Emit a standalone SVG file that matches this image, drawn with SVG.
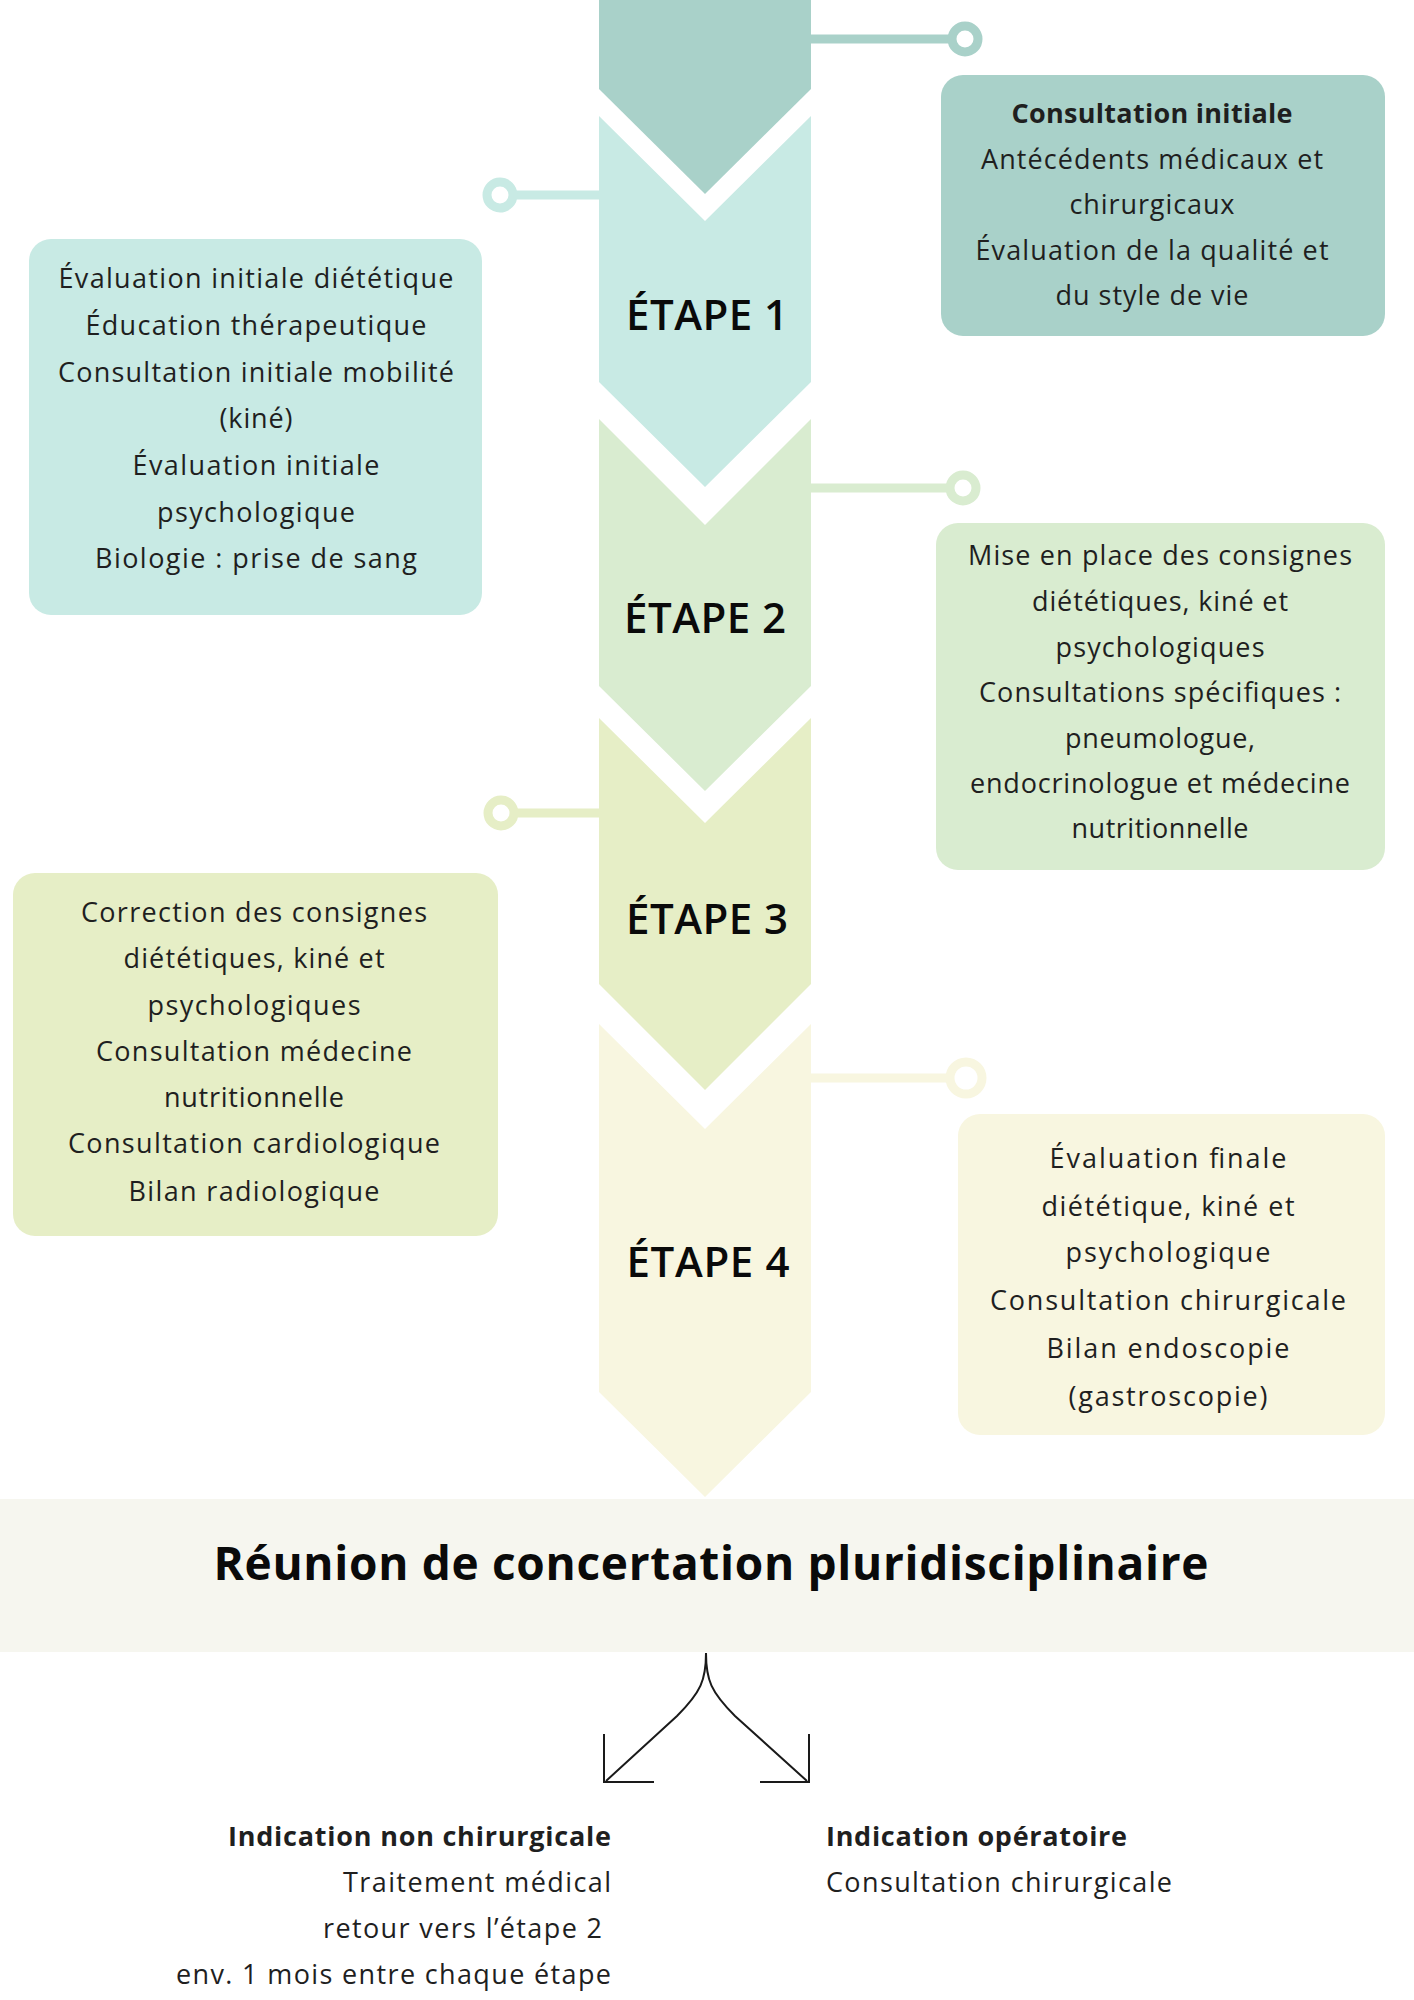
<svg xmlns="http://www.w3.org/2000/svg" width="1414" height="2000" viewBox="0 0 1414 2000">
<style>
.t{font-family:"Open Sans","Liberation Sans",sans-serif;font-size:27px;fill:#1f1f1f;text-anchor:middle}
.b{font-weight:700}
.step{font-family:"Open Sans","Liberation Sans",sans-serif;font-size:42px;font-weight:600;fill:#0a0a0a;text-anchor:middle}
.title{font-family:"Open Sans","Liberation Sans",sans-serif;font-size:46px;font-weight:700;fill:#0a0a0a;text-anchor:middle}
.l{text-anchor:start}
.r{text-anchor:end}
.ln{stroke-width:9;fill:none}
.ring{stroke-width:9;fill:#ffffff}
.arrow{stroke:#1a1a1a;stroke-width:2;fill:none}
</style>
<rect width="1414" height="2000" fill="#ffffff"/>

<g id="chevron-top">
<polygon points="599,0 811,0 811,89 705,194 599,89" fill="#A9D1C9"/>
</g>
<g id="etape1">
<polygon points="599,116 705,221 811,116 811,382 705,487 599,382" fill="#C8EAE4"/>
<text class="step" x="707" y="330" textLength="162">ÉTAPE 1</text>
</g>
<g id="etape2">
<polygon points="599,419 705,525 811,419 811,686 705,791 599,686" fill="#D9ECD0"/>
<text class="step" x="705" y="633" textLength="162">ÉTAPE 2</text>
</g>
<g id="etape3">
<polygon points="599,718 705,823 811,718 811,984 705,1090 599,984" fill="#E6EEC6"/>
<text class="step" x="707" y="934" textLength="162">ÉTAPE 3</text>
</g>
<g id="etape4">
<polygon points="599,1024 705,1129 811,1024 811,1392 705,1497 599,1392" fill="#F8F6E0"/>
<text class="step" x="708" y="1277" textLength="163">ÉTAPE 4</text>
</g>

<g id="connectors">
<line class="ln" x1="811" y1="39" x2="952" y2="39" stroke="#A9D1C9"/>
<circle class="ring" cx="965" cy="39" r="13" stroke="#A9D1C9"/>
<line class="ln" x1="599" y1="195" x2="513" y2="195" stroke="#C8EAE4"/>
<circle class="ring" cx="500" cy="195" r="13" stroke="#C8EAE4"/>
<line class="ln" x1="811" y1="488" x2="950" y2="488" stroke="#D9ECD0"/>
<circle class="ring" cx="963" cy="488" r="13" stroke="#D9ECD0"/>
<line class="ln" x1="599" y1="813" x2="514" y2="813" stroke="#E6EEC6"/>
<circle class="ring" cx="501" cy="813" r="13" stroke="#E6EEC6"/>
<line class="ln" x1="811" y1="1078" x2="950" y2="1078" stroke="#F8F6E0"/>
<circle class="ring" cx="966" cy="1078" r="16" stroke="#F8F6E0" stroke-width="10"/>
<path class="arrow" d="M706 1653 C706 1680 701 1692 677 1716 L606 1781"/>
<path class="arrow" d="M604 1734 L604 1782 L654 1782"/>
<path class="arrow" d="M706 1653 C706 1680 711 1692 735 1716 L807 1781"/>
<path class="arrow" d="M809 1734 L809 1782 L760 1782"/>
</g>

<g id="box-consultation-initiale">
<rect x="941" y="75" width="444" height="261" rx="22" fill="#A9D1C9"/>
<text class="t b" x="1152" y="123" textLength="281">Consultation initiale</text>
<text class="t" x="1152" y="169" textLength="342">Antécédents médicaux et</text>
<text class="t" x="1152" y="214" textLength="165">chirurgicaux</text>
<text class="t" x="1152" y="260" textLength="353">Évaluation de la qualité et</text>
<text class="t" x="1152" y="305" textLength="193">du style de vie</text>
</g>

<g id="box-etape1">
<rect x="29" y="239" width="453" height="376" rx="22" fill="#C8EAE4"/>
<text class="t" x="256" y="288" textLength="395">Évaluation initiale diététique</text>
<text class="t" x="256" y="335" textLength="341">Éducation thérapeutique</text>
<text class="t" x="256" y="382" textLength="396">Consultation initiale mobilité</text>
<text class="t" x="256" y="428" textLength="73">(kiné)</text>
<text class="t" x="256" y="475" textLength="247">Évaluation initiale</text>
<text class="t" x="256" y="522" textLength="198">psychologique</text>
<text class="t" x="256" y="568" textLength="322">Biologie : prise de sang</text>
</g>

<g id="box-etape2">
<rect x="936" y="523" width="449" height="347" rx="22" fill="#D9ECD0"/>
<text class="t" x="1160" y="565" textLength="384">Mise en place des consignes</text>
<text class="t" x="1160" y="611" textLength="256">diététiques, kiné et</text>
<text class="t" x="1160" y="657" textLength="209">psychologiques</text>
<text class="t" x="1160" y="702" textLength="362">Consultations spécifiques :</text>
<text class="t" x="1160" y="748" textLength="190">pneumologue,</text>
<text class="t" x="1160" y="793" textLength="380">endocrinologue et médecine</text>
<text class="t" x="1160" y="838" textLength="177">nutritionnelle</text>
</g>

<g id="box-etape3">
<rect x="13" y="873" width="485" height="363" rx="22" fill="#E6EEC6"/>
<text class="t" x="254" y="922" textLength="346">Correction des consignes</text>
<text class="t" x="254" y="968" textLength="261">diététiques, kiné et</text>
<text class="t" x="254" y="1015" textLength="213">psychologiques</text>
<text class="t" x="254" y="1061" textLength="316">Consultation médecine</text>
<text class="t" x="254" y="1107" textLength="180">nutritionnelle</text>
<text class="t" x="254" y="1153" textLength="372">Consultation cardiologique</text>
<text class="t" x="254" y="1201" textLength="251">Bilan radiologique</text>
</g>

<g id="box-etape4">
<rect x="958" y="1114" width="427" height="321" rx="22" fill="#F8F6E0"/>
<text class="t" x="1168" y="1168" textLength="237">Évaluation finale</text>
<text class="t" x="1168" y="1216" textLength="253">diététique, kiné et</text>
<text class="t" x="1168" y="1262" textLength="205">psychologique</text>
<text class="t" x="1168" y="1310" textLength="356">Consultation chirurgicale</text>
<text class="t" x="1168" y="1358" textLength="243">Bilan endoscopie</text>
<text class="t" x="1168" y="1406" textLength="199">(gastroscopie)</text>
</g>

<g id="reunion">
<rect x="0" y="1499" width="1414" height="153" fill="#F6F6EF"/>
<text class="title" x="711" y="1580" textLength="995">Réunion de concertation pluridisciplinaire</text>
</g>

<g id="indication-non-chirurgicale">
<text class="t b r" x="611" y="1846" textLength="383">Indication non chirurgicale</text>
<text class="t r" x="611" y="1892" textLength="268">Traitement médical</text>
<text class="t r" x="602" y="1938" textLength="279">retour vers l’étape 2</text>
<text class="t r" x="611" y="1984" textLength="435">env. 1 mois entre chaque étape</text>
</g>

<g id="indication-operatoire">
<text class="t b l" x="826" y="1846" textLength="301">Indication opératoire</text>
<text class="t l" x="826" y="1892" textLength="346">Consultation chirurgicale</text>
</g>
</svg>
